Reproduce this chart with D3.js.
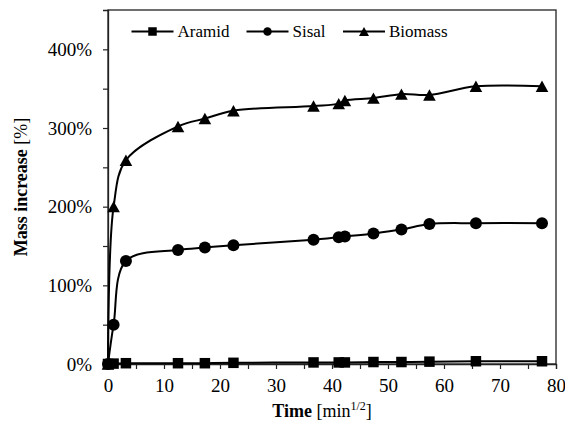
<!DOCTYPE html>
<html>
<head>
<meta charset="utf-8">
<script src="https://cdn.jsdelivr.net/npm/d3@7"></script>
<style>
  html, body { margin: 0; padding: 0; background: #fff; }
  svg { display: block; }
  text { font-family: "Liberation Serif", "Times New Roman", serif; fill: #000; }
</style>
</head>
<body>
<svg id="chart" width="565" height="423"></svg>
<script>
// ---- Data ----
const time = [0, 1, 3.2, 12.5, 17.3, 22.4, 36.7, 41.2, 42.3, 47.4, 52.4, 57.4, 65.7, 77.5];
const aramid = [0, 0.5, 1, 1, 1, 1.5, 2, 2, 2, 2.5, 2.5, 3, 3.5, 3.5];
const sisal = [0, 50, 131, 145, 148, 151, 158, 161, 162, 166, 171, 178, 179, 179];
const biomass = [0, 200, 259, 302, 312, 322, 328, 331, 335, 338, 343, 342, 353, 353];
const seriesNames = ["Aramid", "Sisal", "Biomass"];
const seriesMarkers = ["square", "circle", "triangle"];
const xTicks = [0, 10, 20, 30, 40, 50, 60, 70, 80];
const xMinorTicks = [5, 15, 25, 35, 45, 55, 65, 75];
const yTicks = [0, 100, 200, 300, 400];
const yMinorTicks = [50, 150, 250, 350];

const series = [aramid, sisal, biomass].map((vals, i) => ({
  name: seriesNames[i],
  marker: seriesMarkers[i],
  points: vals.map((v, j) => ({ x: time[j], y: v }))
}));

// ---- Layout ----
const svg = d3.select("#chart");
const L = 108, T = 10, R = 556, B = 364;
const x = d3.scaleLinear().domain([0, 80]).range([L, R]);
const y = d3.scaleLinear().domain([0, 450]).range([B, T]);

// marker path generator
function markerPath(type, s) {
  if (type === "square") {
    const h = s / 2;
    return `M${-h},${-h}H${h}V${h}H${-h}Z`;
  } else if (type === "circle") {
    const r = s / 2;
    return `M${r},0A${r},${r} 0 1,1 ${-r},0A${r},${r} 0 1,1 ${r},0Z`;
  } else {
    const w = s * 1.05 / 2, h = s * 0.95 / 2;
    return `M0,${-h}L${w},${h}L${-w},${h}Z`;
  }
}
const markerSize = { square: 10.5, circle: 12, triangle: 12 };

// ---- Frame ----
svg.append("rect")
  .attr("x", L).attr("y", T).attr("width", R - L).attr("height", B - T)
  .attr("fill", "none").attr("stroke", "#222").attr("stroke-width", 1.3);

// ---- Axes ----
const xAxis = d3.axisBottom(x).tickValues(xTicks).tickSize(5).tickPadding(10).tickFormat(d3.format("d"));
const gx = svg.append("g").attr("transform", `translate(0,${B})`).call(xAxis);
gx.select(".domain").attr("stroke", "#222").attr("stroke-width", 1.3);
gx.selectAll(".tick line").attr("stroke", "#222").attr("stroke-width", 1.2);
gx.selectAll(".tick text").style("font-size", "19px").attr("fill", "#000");

const xMinor = d3.axisBottom(x).tickValues(xMinorTicks).tickSize(5).tickFormat("");
const gxm = svg.append("g").attr("transform", `translate(0,${B})`).call(xMinor);
gxm.select(".domain").remove();
gxm.selectAll(".tick line").attr("stroke", "#222").attr("stroke-width", 1.2);

const yAxis = d3.axisLeft(y).tickValues(yTicks).tickSize(5).tickPadding(11).tickFormat(d => d + "%");
const gy = svg.append("g").attr("transform", `translate(${L},0)`).call(yAxis);
gy.select(".domain").attr("stroke", "#222").attr("stroke-width", 1.3);
gy.selectAll(".tick line").attr("stroke", "#222").attr("stroke-width", 1.2);
gy.selectAll(".tick text").style("font-size", "19px").attr("fill", "#000");

const yMinor = d3.axisLeft(y).tickValues(yMinorTicks).tickSize(5).tickFormat("");
const gym = svg.append("g").attr("transform", `translate(${L},0)`).call(yMinor);
gym.select(".domain").remove();
gym.selectAll(".tick line").attr("stroke", "#222").attr("stroke-width", 1.2);

// ---- Axis titles ----
const xt = svg.append("text")
  .attr("x", (L + R) / 2 - 10).attr("y", 417)
  .attr("text-anchor", "middle")
  .style("font-size", "18px");
xt.append("tspan").attr("font-weight", "bold").text("Time");
xt.append("tspan").text(" [min");
xt.append("tspan").attr("baseline-shift", "super").style("font-size", "12px").text("1/2");
xt.append("tspan").text("]");

const yt = svg.append("text")
  .attr("transform", `translate(27,${(T + B) / 2}) rotate(-90)`)
  .attr("text-anchor", "middle")
  .style("font-size", "18px");
yt.append("tspan").attr("font-weight", "bold").text("Mass increase");
yt.append("tspan").text(" [%]");

// ---- Lines ----
const line = d3.line()
  .x(d => x(d.x)).y(d => y(d.y))
  .curve(d3.curveCatmullRom.alpha(0.5));

const gS = svg.append("g");
series.forEach(s => {
  gS.append("path")
    .datum(s.points)
    .attr("d", line)
    .attr("fill", "none")
    .attr("stroke", "#000")
    .attr("stroke-width", 2);
});
series.forEach(s => {
  gS.selectAll(null)
    .data(s.points)
    .enter().append("path")
    .attr("transform", d => `translate(${x(d.x)},${y(d.y)})`)
    .attr("d", markerPath(s.marker, markerSize[s.marker]))
    .attr("fill", "#000");
});

// ---- Legend ----
const legendX = [131.5, 246.5, 343];
const legendY = 31.5;
series.forEach((s, i) => {
  const g = svg.append("g").attr("transform", `translate(${legendX[i]},${legendY})`);
  g.append("line").attr("x1", 0).attr("x2", 42).attr("y1", 0).attr("y2", 0)
    .attr("stroke", "#000").attr("stroke-width", 2);
  g.append("path").attr("transform", "translate(21,0)")
    .attr("d", markerPath(s.marker, s.marker === "triangle" ? 9.5 : 8.5))
    .attr("fill", "#000");
  g.append("text").attr("x", 46).attr("y", 5.5)
    .style("font-size", "17px").text(s.name);
});
</script>
</body>
</html>
